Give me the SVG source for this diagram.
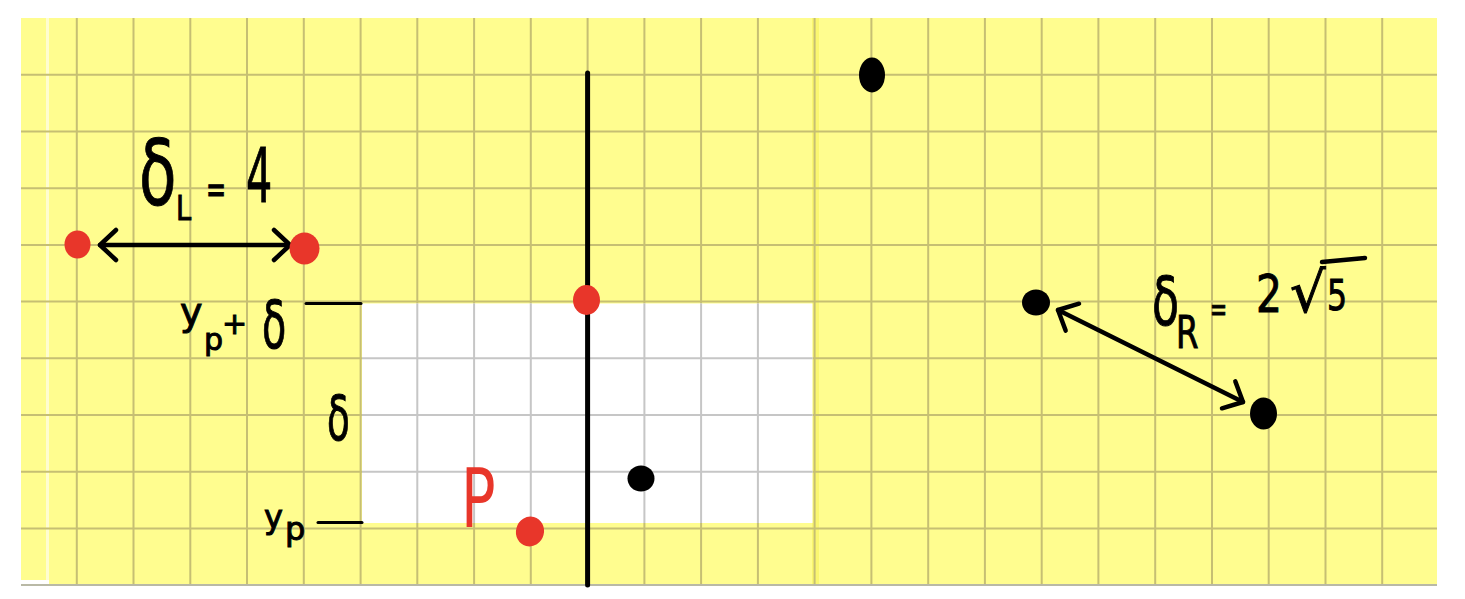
<svg xmlns="http://www.w3.org/2000/svg" width="1465" height="599" viewBox="0 0 1465 599">
<style>
.ygrid{stroke:#c6bf73;stroke-width:2;fill:none}
.wgrid{stroke:#c6c6c6;stroke-width:2;fill:none}
.ink{fill:#000;stroke:#000;stroke-width:1;font-family:"DejaVu Sans",sans-serif}
.red{fill:#e8362a;font-family:"DejaVu Sans",sans-serif}
.tick{stroke:#000;stroke-width:3;stroke-linecap:round}
.arrow{stroke:#000;stroke-width:4.5;fill:none;stroke-linecap:round;marker-start:url(#chev);marker-end:url(#chev)}
.rdot{fill:#e8362a}
.bdot{fill:#000}
</style>
<defs>
<marker id="chev" viewBox="-22 -22 28 44" refX="0" refY="0" markerWidth="28" markerHeight="44" markerUnits="userSpaceOnUse" orient="auto-start-reverse">
<path d="M-16,-15 L0,0 L-16,15" fill="none" stroke="#000" stroke-width="4.5" stroke-linecap="round" stroke-linejoin="round"/>
</marker>
</defs>
<rect width="1465" height="599" fill="#fff"/>
<g id="paper">
<rect x="21" y="18" width="1416" height="568" fill="#fffd8f"/>
<rect x="46" y="18" width="3" height="568" fill="#fffdd0"/>
<rect x="21" y="580" width="28" height="6" fill="#fff"/>
<rect x="812" y="18" width="7" height="568" fill="#f6f35c" opacity="0.6"/>
<path class="ygrid" d="M76.8,18V586M133.5,18V586M190.3,18V586M247,18V586M303.8,18V586M360.6,18V586M417.3,18V586M474.1,18V586M530.8,18V586M587.6,18V586M644.4,18V586M701.1,18V586M757.9,18V586M814.6,18V586M871.4,18V586M928.2,18V586M984.9,18V586M1041.7,18V586M1098.4,18V586M1155.2,18V586M1212,18V586M1268.7,18V586M1325.5,18V586M1382.2,18V586M21,74.7H1437M21,131.4H1437M21,188.2H1437M21,244.9H1437M21,301.6H1437M21,358.3H1437M21,415H1437M21,471.8H1437M21,528.5H1437"/>
<rect x="362" y="303.5" width="450.5" height="219.5" fill="#fff"/>
<path class="wgrid" d="M417.3,303.5V523M474.1,303.5V523M530.8,303.5V523M587.6,303.5V523M644.4,303.5V523M701.1,303.5V523M757.9,303.5V523M362,358.3H812.5M362,415H812.5M362,471.8H812.5"/>
<line x1="21" y1="585" x2="1437" y2="585" stroke="#b9b9a6" stroke-width="2"/>
</g>
<g id="connectors">
<line id="divider" x1="587.6" y1="73" x2="587.6" y2="585" stroke="#000" stroke-width="5" stroke-linecap="round"/>
<path id="arrowL" class="arrow" d="M100,245 L290,245"/>
<path id="arrowR" class="arrow" d="M1058,310 L1243,402"/>
</g>
<g id="dotL1"><ellipse class="rdot" cx="77.5" cy="244.5" rx="13" ry="14"/></g>
<g id="dotL2"><ellipse class="rdot" cx="304.5" cy="248.5" rx="15" ry="16"/></g>
<g id="dotMid"><ellipse class="rdot" cx="586.5" cy="300" rx="13.5" ry="15"/></g>
<g id="dotP"><ellipse class="rdot" cx="530" cy="531.5" rx="14" ry="15" transform="rotate(15 530 531.5)"/></g>
<g id="dotB1"><ellipse class="bdot" cx="641" cy="478.5" rx="13.5" ry="13"/></g>
<g id="dotTop"><ellipse class="bdot" cx="872" cy="75" rx="13" ry="17.5"/></g>
<g id="dotR1"><ellipse class="bdot" cx="1036" cy="302.5" rx="14" ry="13"/></g>
<g id="dotR2"><ellipse class="bdot" cx="1263.5" cy="413.5" rx="13.5" ry="16"/></g>
<g id="labelDeltaL">
<text class="ink" font-size="90" transform="translate(139,205) scale(0.68,1)">δ</text>
<text class="ink" font-size="34" transform="translate(176,220) scale(0.8,1)">L</text>
<text class="ink" font-size="40" transform="translate(206,203) scale(0.6,1)" stroke-width="2">=</text>
<text class="ink" font-size="75" transform="translate(246,202) scale(0.55,1)">4</text>
</g>
<g id="labelDeltaR">
<text class="ink" font-size="68" transform="translate(1152,325) scale(0.65,1)">δ</text>
<text class="ink" font-size="45" transform="translate(1176,348) scale(0.72,1)">R</text>
<text class="ink" font-size="34" transform="translate(1210,321) scale(0.6,1)" stroke-width="2">=</text>
<text class="ink" font-size="51" transform="translate(1256,312) scale(0.8,1)">2</text>
<text class="ink" font-size="56" x="1290" y="312">√</text>
<line x1="1322" y1="262" x2="1365" y2="258" stroke="#000" stroke-width="4.5" stroke-linecap="round"/>
<text class="ink" font-size="42" transform="translate(1327,310) scale(0.75,1)">5</text>
</g>
<g id="labelTop">
<text class="ink" font-size="38" x="180" y="325">y</text>
<text class="ink" font-size="30" x="204" y="350">p</text>
<text class="ink" font-size="30" x="222" y="334">+</text>
<text class="ink" font-size="66" transform="translate(262,348) scale(0.6,1)">δ</text>
<line class="tick" x1="306" y1="303.5" x2="361" y2="303.5"/>
</g>
<g id="labelDelta">
<text class="ink" font-size="62" transform="translate(327,440) scale(0.6,1)">δ</text>
</g>
<g id="labelYp">
<text class="ink" font-size="32" x="264" y="528">y</text>
<text class="ink" font-size="32" x="285" y="540">p</text>
<line class="tick" x1="318" y1="522.5" x2="362" y2="522.5"/>
</g>
<g id="labelP">
<text class="red" font-size="82" transform="translate(461,527) scale(0.7,1)">P</text>
</g>
</svg>
